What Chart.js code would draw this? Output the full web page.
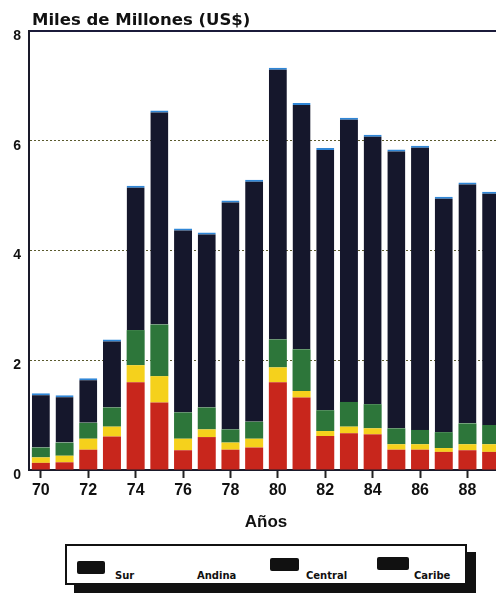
<!DOCTYPE html>
<html><head><meta charset="utf-8">
<script src="https://cdn.jsdelivr.net/npm/chart.js@4.4.0/dist/chart.umd.min.js"></script>
<style>
html,body{margin:0;padding:0;background:#fff;overflow:hidden;width:496px;height:594px;}
#wrap{position:relative;width:496px;height:594px;overflow:hidden;background:#fff;}
#c{position:absolute;left:0;top:0;}
#title{position:absolute;left:32px;top:11px;font:bold 16.5px "DejaVu Sans";line-height:17px;color:#111;white-space:nowrap;}
#legend{position:absolute;left:65px;top:544px;width:398px;height:37px;border:2px solid #111;box-shadow:9px 8px 0 #111;background:#fff;}
.item{position:absolute;font:bold 10px "DejaVu Sans";line-height:10px;color:#111;white-space:nowrap;}
.sw{position:absolute;height:13px;background:#111;border-radius:2px;}
</style></head>
<body>
<div id="wrap">
  <canvas id="c" width="503" height="535"></canvas>
  <div id="title">Miles de Millones (US$)</div>
  <div id="legend"></div>
</div>
<script>
// ---- data ----
const years = ['70','71','72','73','74','75','76','77','78','79','80','81','82','83','84','85','86','87','88','89'];
const seriesNames = ['Sur','Andina','Central','Caribe'];
const sur     = [0.13,0.14,0.37,0.61,1.60,1.23,0.36,0.60,0.37,0.41,1.60,1.32,0.62,0.67,0.65,0.37,0.37,0.33,0.36,0.33];
const andina  = [0.10,0.12,0.20,0.18,0.31,0.48,0.21,0.14,0.13,0.16,0.27,0.12,0.09,0.12,0.11,0.10,0.10,0.07,0.11,0.14];
const central = [0.18,0.24,0.29,0.35,0.64,0.94,0.48,0.40,0.24,0.31,0.51,0.76,0.38,0.45,0.44,0.29,0.26,0.29,0.38,0.35];
const caribe  = [0.99,0.86,0.81,1.24,2.63,3.90,3.35,3.19,4.17,4.41,4.95,4.49,4.78,5.18,4.91,5.08,5.18,4.29,4.39,4.25];
const yTicks  = [0,2,4,6,8];
const xTitle  = 'Años';

// ---- styles ----
const colors = ['#c8261c','#f5d11c','#2d763a','#15172c'];

const ctx = document.getElementById('c').getContext('2d');
new Chart(ctx, {
  type: 'bar',
  data: {
    labels: years,
    datasets: [
      {label: seriesNames[0], data: sur, backgroundColor: colors[0]},
      {label: seriesNames[1], data: andina, backgroundColor: colors[1]},
      {label: seriesNames[2], data: central, backgroundColor: colors[2]},
      {label: seriesNames[3], data: caribe, backgroundColor: colors[3],
       borderColor: '#2f86d6', borderWidth: {top: 2, left: 0, right: 0, bottom: 0}, borderSkipped: false}
    ]
  },
  options: {
    responsive: false,
    animation: false,
    devicePixelRatio: 1,
    layout: {padding: {top: 31, left: 0, right: 0, bottom: 0}},
    plugins: {legend: {display: false}, tooltip: {enabled: false}},
    datasets: {bar: {barPercentage: 0.76, categoryPercentage: 1.0}},
    scales: {
      x: {
        stacked: true,
        offset: true,
        grid: {display: true, offset: false, drawOnChartArea: false, drawTicks: true, tickLength: 8, tickWidth: 2,
               tickColor: (c) => (c.index % 2 === 0 ? '#222' : 'rgba(0,0,0,0)')},
        border: {display: true, color: '#1a1a2a', width: 2},
        ticks: {autoSkip: false, maxRotation: 0, minRotation: 0, padding: 3, color: '#111',
                font: {family: 'Liberation Sans', weight: 'bold', size: 16},
                callback: (v, i) => (i % 2 === 0 ? years[i] : '')},
        title: {display: true, text: xTitle, color: '#111',
                font: {family: 'Liberation Sans', weight: 'bold', size: 17}, padding: {top: 0, bottom: 2}},
        afterFit: (s) => { s.height = 65; }
      },
      y: {
        stacked: true,
        min: 0, max: 8,
        afterBuildTicks: (s) => { s.ticks = yTicks.map(v => ({value: v})); },
        grid: {drawTicks: false,
               color: (c) => (c.tick && c.tick.value === 8 ? '#1b1b3a' : (c.tick && c.tick.value === 0 ? 'rgba(0,0,0,0)' : '#5a5a2e')),
               lineWidth: (c) => (c.tick && c.tick.value === 8 ? 2 : 1)},
        border: {display: true, color: '#1a1a2a', width: 2,
                 dash: (c) => (c.tick && c.tick.value !== 8 ? [2, 2] : [])},
        ticks: {padding: 8, labelOffset: 5, color: '#111',
                font: {family: 'Liberation Sans', weight: 'bold', size: 14}},
        afterFit: (s) => { s.width = 29; }
      }
    }
  }
});

// ---- legend (HTML, built from the series names) ----
const legendLayout = [
  {sw: [10, 15, 28], tx: [48, 25]},
  {sw: null,         tx: [130, 25]},
  {sw: [203, 12, 29], tx: [239, 25]},
  {sw: [310, 11, 32], tx: [347, 25]}
];
const legendSwatchFill = ['#111', null, '#111', '#111'];
const lg = document.getElementById('legend');
seriesNames.forEach((name, i) => {
  const L = legendLayout[i];
  if (L.sw && legendSwatchFill[i]) {
    const s = document.createElement('div');
    s.className = 'sw';
    s.style.left = L.sw[0] + 'px'; s.style.top = L.sw[1] + 'px'; s.style.width = L.sw[2] + 'px';
    s.style.background = legendSwatchFill[i];
    lg.appendChild(s);
  }
  const t = document.createElement('div');
  t.className = 'item';
  t.style.left = L.tx[0] + 'px'; t.style.top = L.tx[1] + 'px';
  t.textContent = name;
  lg.appendChild(t);
});
</script>
</body></html>
